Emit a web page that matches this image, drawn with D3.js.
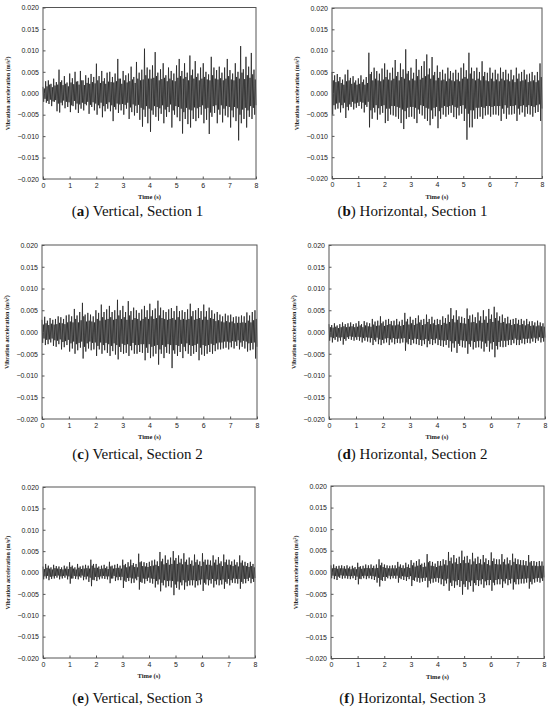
<!DOCTYPE html>
<html>
<head>
<meta charset="utf-8">
<script src="https://cdn.jsdelivr.net/npm/d3@7"></script>
<style>
  html, body { margin: 0; padding: 0; background: #fff; }
  svg { display: block; }
  .tick text { font-family: "Liberation Sans", Arial, sans-serif; font-size: 7px; fill: #222; }
  .axis-title { font-family: "Liberation Serif", "Times New Roman", serif; font-weight: bold; fill: #222; }
  .caption { font-family: "Liberation Serif", "Times New Roman", serif; font-size: 15px; fill: #111; }
</style>
</head>
<body>
<div id="chart"></div>
<script>
/** acceleration records, in 10^-4 m/s², one value every 0.025 s (one row per second) */
const verticalS1 = [
  15,-20,11,-13, 28,-22,16,-18, 30,-25,20,-15, 22,-30,14,-19, 34,-20,18,-16, 26,-42,20,-24, 55,-45,26,-22, 30,-28,19,-17, 40,-35,22,-20, 25,-32,16,-21,
  46,-44,25,-28, 35,-30,21,-18, 50,-38,27,-24, 28,-46,20,-26, 52,-36,30,-22, 30,-40,19,-25, 42,-28,24,-20, 36,-48,22,-27, 45,-32,26,-21, 38,-40,23,-24,
  69,-50,30,-28, 40,-35,24,-22, 52,-56,28,-30, 35,-42,22,-25, 48,-36,27,-21, 50,-42,26,-28, 38,-65,25,-32, 46,-38,28,-24, 80,-46,34,-26, 34,-40,22,-25,
  52,-50,30,-27, 42,-36,25,-22, 46,-60,28,-33, 62,-44,32,-26, 38,-52,24,-29, 73,-46,34,-27, 48,-62,30,-34, 55,-78,32,-38, 104,-55,42,-30, 60,-70,34,-36,
  55,-90,34,-40, 65,-50,36,-30, 96,-55,40,-32, 48,-64,30,-35, 56,-48,33,-28, 70,-70,36,-38, 42,-55,28,-32, 60,-44,34,-26, 52,-80,30,-40, 46,-50,28,-30,
  65,-56,36,-32, 80,-65,40,-36, 52,-94,34,-44, 70,-60,38,-34, 48,-72,30,-38, 88,-80,42,-40, 55,-60,34,-33, 75,-65,38,-35, 46,-58,30,-32, 60,-50,34,-28,
  70,-70,38,-36, 50,-62,32,-34, 44,-95,30,-45, 85,-55,42,-30, 60,-46,34,-28, 54,-70,32,-38, 62,-50,35,-28, 48,-68,30,-36, 60,-52,34,-30, 80,-56,40,-32,
  54,-80,32,-40, 46,-56,30,-32, 70,-65,38,-35, 50,-110,34,-50, 110,-70,48,-38, 56,-60,33,-34, 85,-80,42,-40, 62,-55,36,-30, 94,-60,44,-34, 55,-50,32,-28
];
const horizontalS1 = [
  50,-50,30,-28, 42,-38,26,-24, 45,-36,28,-22, 38,-45,24,-28, 32,-35,20,-22, 44,-58,28,-32, 55,-40,30,-26, 36,-32,22,-20, 40,-38,25,-24, 30,-34,20,-22,
  35,-30,22,-20, 42,-36,26,-22, 32,-45,20,-27, 38,-32,24,-20, 95,-80,45,-40, 50,-60,30,-34, 60,-45,34,-28, 52,-62,30,-35, 46,-50,28,-30, 58,-46,32,-28,
  70,-70,38,-36, 55,-65,32,-36, 48,-50,30,-30, 60,-52,34,-30, 78,-55,40,-32, 50,-60,30,-34, 70,-70,38,-38, 56,-84,34,-42, 103,-60,46,-34, 52,-56,30,-32,
  60,-55,34,-32, 48,-60,30,-34, 80,-70,40,-38, 55,-48,32,-28, 64,-52,36,-30, 75,-60,40,-34, 91,-65,44,-36, 58,-75,34,-40, 85,-60,42,-34, 50,-54,30,-32,
  65,-82,36,-42, 50,-60,30,-34, 55,-50,32,-30, 46,-55,28,-32, 60,-50,34,-30, 52,-46,30,-28, 48,-56,28,-32, 55,-60,32,-34, 48,-52,28,-30, 60,-48,34,-28,
  70,-65,38,-36, 54,-109,34,-48, 95,-80,46,-40, 60,-80,34,-40, 52,-60,30,-34, 60,-60,34,-34, 50,-55,30,-32, 75,-60,40,-34, 50,-52,30,-30, 48,-50,28,-30,
  60,-55,34,-32, 48,-50,28,-30, 55,-50,32,-30, 46,-52,28,-30, 60,-65,34,-36, 50,-48,30,-28, 55,-60,32,-34, 46,-50,28,-30, 55,-50,32,-30, 42,-48,26,-28,
  60,-65,34,-36, 46,-50,28,-30, 50,-45,30,-28, 55,-55,32,-32, 44,-48,26,-28, 46,-50,28,-30, 50,-55,30,-32, 42,-46,26,-28, 50,-44,30,-26, 70,-65,38,-36
];
const verticalS2 = [
  28,-25,17,-15, 35,-30,20,-18, 26,-28,16,-17, 32,-24,19,-15, 28,-32,17,-19, 30,-34,18,-20, 36,-28,21,-17, 34,-40,20,-23, 30,-35,18,-21, 38,-30,22,-18,
  40,-45,24,-26, 36,-38,22,-22, 53,-50,30,-28, 38,-42,22,-25, 46,-36,27,-22, 67,-61,36,-34, 40,-45,24,-26, 44,-38,26,-22, 40,-42,24,-25, 36,-40,22,-24,
  50,-55,30,-32, 44,-40,26,-24, 63,-50,34,-30, 46,-42,28,-25, 52,-48,30,-28, 60,-55,34,-32, 46,-44,28,-26, 50,-52,30,-30, 74,-63,38,-34, 50,-46,30,-27,
  60,-50,34,-30, 46,-48,28,-28, 71,-55,38,-32, 48,-42,28,-25, 56,-50,32,-30, 50,-50,30,-30, 44,-46,26,-28, 52,-48,30,-28, 60,-65,34,-36, 50,-48,30,-28,
  65,-60,36,-34, 50,-56,30,-32, 54,-50,32,-30, 72,-75,38,-40, 56,-50,32,-30, 50,-60,30,-34, 46,-48,28,-28, 52,-50,30,-30, 55,-83,32,-42, 48,-50,28,-30,
  60,-55,34,-32, 48,-46,28,-27, 50,-60,30,-34, 46,-44,28,-26, 52,-50,30,-30, 65,-55,36,-32, 48,-50,28,-30, 50,-46,30,-27, 55,-65,32,-36, 48,-52,28,-30,
  63,-55,35,-32, 48,-50,28,-30, 56,-46,32,-27, 50,-50,30,-30, 42,-44,25,-26, 46,-40,27,-24, 40,-40,24,-24, 36,-38,22,-22, 42,-36,25,-22, 38,-40,22,-24,
  40,-35,24,-21, 34,-38,20,-22, 36,-32,21,-19, 35,-40,21,-24, 38,-34,22,-20, 36,-38,21,-22, 45,-45,26,-26, 38,-42,22,-25, 46,-40,27,-24, 50,-61,30,-34
];
const horizontalS2 = [
  18,-20,11,-12, 16,-24,10,-14, 20,-18,12,-11, 15,-22,9,-13, 18,-20,11,-12, 22,-29,13,-16, 18,-20,11,-12, 20,-16,12,-10, 22,-18,13,-11, 18,-20,11,-12,
  20,-18,12,-11, 25,-20,15,-12, 18,-24,11,-14, 25,-20,15,-12, 22,-22,13,-13, 20,-24,12,-14, 30,-30,17,-18, 24,-22,14,-13, 26,-28,15,-17, 36,-30,20,-18,
  24,-26,14,-15, 28,-24,16,-14, 30,-30,18,-17, 25,-24,15,-14, 26,-28,15,-16, 30,-25,17,-15, 24,-26,14,-15, 28,-24,16,-14, 44,-43,24,-24, 30,-28,17,-16,
  35,-30,20,-18, 28,-26,16,-15, 32,-28,19,-16, 38,-30,22,-18, 28,-32,16,-19, 30,-28,18,-16, 40,-35,23,-20, 30,-28,18,-16, 35,-30,20,-18, 28,-26,16,-15,
  30,-30,18,-18, 28,-32,16,-19, 36,-34,21,-20, 32,-30,19,-18, 40,-36,23,-21, 55,-45,30,-26, 38,-36,22,-21, 50,-48,28,-27, 36,-32,21,-19, 35,-35,20,-20,
  32,-36,19,-21, 54,-50,30,-28, 38,-34,22,-20, 40,-40,23,-23, 34,-36,20,-21, 45,-35,26,-20, 36,-38,21,-22, 50,-45,28,-26, 36,-34,21,-20, 53,-45,30,-26,
  40,-40,23,-23, 58,-58,32,-32, 45,-40,26,-23, 36,-34,21,-20, 40,-35,23,-20, 32,-34,19,-20, 35,-30,20,-18, 28,-30,16,-18, 30,-26,18,-15, 32,-30,19,-18,
  28,-30,16,-18, 30,-26,18,-15, 26,-28,15,-16, 30,-25,18,-15, 24,-26,14,-15, 25,-22,15,-13, 22,-25,13,-15, 26,-20,15,-12, 22,-24,13,-14, 20,-22,12,-13
];
const verticalS3 = [
  14,-16,8,-9, 20,-14,11,-8, 16,-18,9,-10, 12,-15,7,-9, 18,-14,10,-8, 15,-12,9,-7, 14,-16,8,-9, 12,-14,7,-8, 16,-12,9,-7, 14,-16,8,-9,
  24,-26,13,-14, 16,-14,9,-8, 12,-15,7,-9, 20,-16,11,-9, 14,-12,8,-7, 16,-18,9,-10, 18,-16,10,-9, 16,-22,9,-12, 30,-32,16,-17, 20,-18,11,-10,
  20,-20,11,-11, 14,-16,8,-9, 16,-14,9,-8, 18,-15,10,-9, 14,-16,8,-9, 25,-25,14,-14, 16,-14,9,-8, 18,-20,10,-11, 20,-18,11,-10, 16,-18,9,-10,
  30,-36,17,-19, 20,-22,12,-13, 24,-20,14,-12, 30,-25,17,-14, 22,-24,13,-14, 20,-18,12,-10, 44,-40,24,-22, 26,-24,15,-14, 24,-26,14,-15, 22,-20,13,-12,
  25,-24,15,-14, 28,-26,16,-15, 30,-35,18,-20, 26,-28,15,-16, 48,-44,26,-24, 32,-30,19,-18, 40,-35,22,-20, 30,-32,18,-19, 35,-35,20,-20, 50,-53,28,-28,
  34,-36,20,-21, 40,-40,23,-23, 32,-30,19,-18, 45,-40,25,-23, 30,-32,18,-19, 35,-30,20,-18, 28,-30,16,-18, 42,-35,24,-20, 30,-30,18,-18, 26,-28,15,-16,
  45,-43,25,-24, 30,-28,18,-16, 30,-30,18,-18, 28,-26,16,-15, 40,-35,23,-20, 30,-28,18,-16, 36,-30,21,-18, 26,-28,15,-16, 42,-38,24,-22, 30,-26,18,-15,
  30,-30,18,-18, 26,-24,15,-14, 30,-25,18,-15, 24,-26,14,-15, 40,-38,23,-22, 28,-26,16,-15, 25,-25,15,-15, 22,-20,13,-12, 25,-25,15,-15, 20,-22,12,-13
];
const horizontalS3 = [
  16,-14,9,-8, 18,-16,10,-9, 14,-18,8,-10, 15,-13,9,-7, 16,-15,9,-8, 14,-14,8,-8, 16,-15,9,-9, 13,-16,7,-9, 15,-14,9,-8, 12,-18,7,-10,
  22,-28,12,-15, 14,-16,8,-9, 15,-14,9,-8, 18,-16,10,-9, 16,-14,9,-8, 18,-16,10,-9, 15,-18,9,-10, 18,-24,10,-13, 30,-33,16,-18, 22,-20,12,-11,
  18,-20,10,-11, 16,-14,9,-8, 15,-16,9,-9, 16,-14,9,-8, 16,-15,9,-8, 24,-24,13,-13, 18,-16,10,-9, 16,-18,9,-10, 22,-20,12,-11, 18,-16,10,-9,
  28,-32,16,-18, 22,-20,13,-12, 26,-22,15,-13, 30,-24,17,-14, 20,-22,12,-13, 22,-20,13,-12, 42,-35,23,-20, 26,-26,15,-15, 24,-24,14,-14, 20,-22,12,-13,
  26,-24,15,-14, 26,-28,15,-16, 30,-32,18,-19, 28,-26,16,-15, 47,-43,26,-24, 34,-32,20,-19, 40,-36,23,-21, 32,-30,19,-18, 36,-34,21,-20, 50,-52,28,-28,
  36,-34,21,-20, 38,-40,22,-23, 30,-32,18,-19, 45,-45,25,-25, 32,-30,19,-18, 36,-32,21,-19, 30,-28,18,-16, 40,-36,23,-21, 32,-30,19,-18, 28,-30,16,-18,
  46,-43,26,-24, 32,-30,19,-18, 30,-28,18,-16, 30,-28,18,-16, 42,-36,24,-21, 30,-26,18,-15, 34,-30,20,-18, 28,-26,16,-15, 43,-40,24,-23, 32,-28,19,-16,
  30,-28,18,-16, 28,-26,16,-15, 28,-26,16,-15, 26,-24,15,-14, 40,-38,23,-22, 26,-28,15,-16, 26,-24,15,-14, 24,-22,14,-13, 26,-24,15,-14, 25,-20,15,-12
];

/** axes */
const duration = 8;
const xTicks = [0, 1, 2, 3, 4, 5, 6, 7, 8];
const yTicks = [-0.02, -0.015, -0.01, -0.005, 0, 0.005, 0.01, 0.015, 0.02];

/** panels: caption letter, direction, section, record */
const letters = ["a", "b", "c", "d", "e", "f"];
const directions = ["Vertical", "Horizontal", "Vertical", "Horizontal", "Vertical", "Horizontal"];
const sections = [1, 1, 2, 2, 3, 3];
const records = [verticalS1, horizontalS1, verticalS2, horizontalS2, verticalS3, horizontalS3];

/** plot frame of each panel, in page pixels */
const frames = [
  { x0: 43, x1: 256, y0: 7.5, y1: 179, cap: 216 },
  { x0: 332, x1: 542, y0: 8, y1: 178.5, cap: 216 },
  { x0: 42, x1: 257, y0: 245, y1: 419, cap: 459 },
  { x0: 329, x1: 545, y0: 245, y1: 419, cap: 459 },
  { x0: 43, x1: 255, y0: 487, y1: 658, cap: 703 },
  { x0: 331, x1: 544, y0: 486, y1: 658.5, cap: 703 },
];

const width = 550;
const height = 709;

const svg = d3
  .select("#chart")
  .append("svg")
  .attr("width", width)
  .attr("height", height);

const fmt = d3.format(".3f");

records.forEach((record, k) => {
  const { x0, x1, y0, y1, cap } = frames[k];
  const colCenter = k % 2 === 0 ? width / 4 : (3 * width) / 4;

  const x = d3.scaleLinear().domain([0, duration]).range([x0, x1]);
  const y = d3.scaleLinear().domain([-0.02, 0.02]).range([y1, y0]);

  /** signal, sample i at i * 8 / (n - 1) seconds */
  const n = record.length;
  const line = d3
    .line()
    .x((d, i) => x((i * duration) / (n - 1)))
    .y((d) => y(d / 10000));

  svg
    .append("path")
    .attr("d", line(record))
    .attr("fill", "none")
    .attr("stroke", "#1c1c1c")
    .attr("stroke-width", 0.75);

  /** frame */
  svg
    .append("rect")
    .attr("x", x0)
    .attr("y", y0)
    .attr("width", x1 - x0)
    .attr("height", y1 - y0)
    .attr("fill", "none")
    .attr("stroke", "#555")
    .attr("stroke-width", 1);

  /** axes with inward ticks */
  const xAxis = d3.axisBottom(x).tickValues(xTicks).tickFormat(d3.format("d")).tickSize(-2.5).tickPadding(4);
  const yAxis = d3.axisLeft(y).tickValues(yTicks).tickFormat(fmt).tickSize(-2.5).tickPadding(4);

  const gx = svg.append("g").attr("transform", `translate(0,${y1})`).call(xAxis);
  const gy = svg.append("g").attr("transform", `translate(${x0},0)`).call(yAxis);
  [gx, gy].forEach((g) => {
    g.select(".domain").remove();
    g.selectAll(".tick line").attr("stroke", "#555");
  });

  /** axis titles */
  svg
    .append("text")
    .attr("class", "axis-title")
    .attr("x", (x0 + x1) / 2)
    .attr("y", y1 + 20)
    .attr("text-anchor", "middle")
    .attr("font-size", 6.5)
    .text("Time (s)");

  const yt = svg
    .append("text")
    .attr("class", "axis-title")
    .attr("transform", `translate(${x0 - 33},${(y0 + y1) / 2}) rotate(-90)`)
    .attr("text-anchor", "middle")
    .attr("font-size", 6);
  yt.append("tspan").text("Vibration acceleration (m/s");
  yt.append("tspan").attr("dy", -2).attr("font-size", 4).text("2");
  yt.append("tspan").attr("dy", 2).text(")");

  /** caption */
  const c = svg
    .append("text")
    .attr("class", "caption")
    .attr("x", colCenter)
    .attr("y", cap)
    .attr("text-anchor", "middle");
  c.append("tspan").text("(");
  c.append("tspan").attr("font-weight", "bold").text(letters[k]);
  c.append("tspan").text(`) ${directions[k]}, Section ${sections[k]}`);
});
</script>
</body>
</html>
